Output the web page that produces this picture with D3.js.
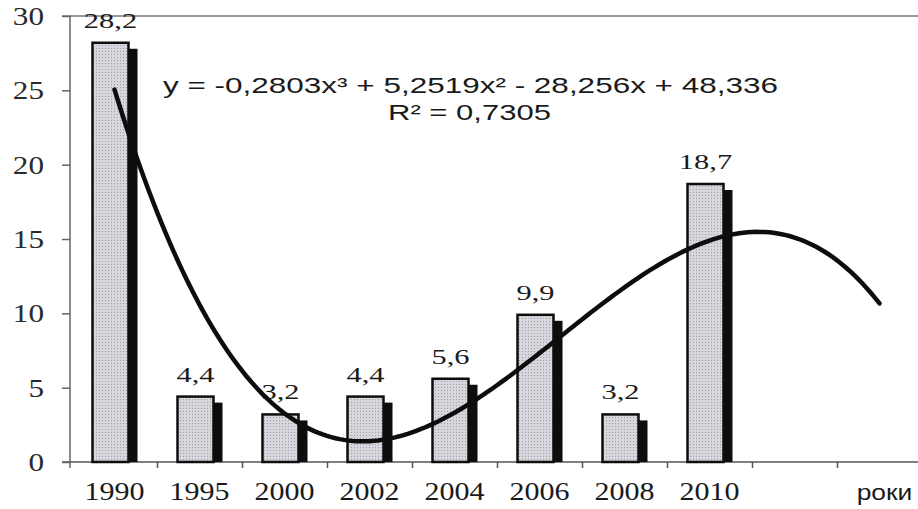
<!DOCTYPE html>
<html>
<head>
<meta charset="utf-8">
<script src="https://cdn.jsdelivr.net/npm/d3@7"></script>
<style>
  body { margin: 0; background: #fff; }
  .serif { font-family: "Liberation Serif", "DejaVu Serif", "Times New Roman", serif; }
  .sans { font-family: "Liberation Sans", Arial, sans-serif; }
</style>
</head>
<body>
<div class="chart"></div>
<script>
// values
var years = ["1990", "1995", "2000", "2002", "2004", "2006", "2008", "2010"];
var values = [28.2, 4.4, 3.2, 4.4, 5.6, 9.9, 3.2, 18.7];
var valueLabels = ["28,2", "4,4", "3,2", "4,4", "5,6", "9,9", "3,2", "18,7"];
var slotLabels = years.concat(["", "роки"]);
var yTicks = [0, 5, 10, 15, 20, 25, 30];
// cubic trend printed on the chart, x = slot number 1..10
var trendCoef = [-0.2803, 5.2519, -28.256, 48.336];
var trendText = ["y = -0,2803x³ + 5,2519x² - 28,256x + 48,336", "R² = 0,7305"];

var width = 918, height = 509;

var svg = d3
  .select(".chart")
  .append("svg")
  .attr("width", width)
  .attr("height", height);

var x = d3.scaleLinear().domain([0.5, slotLabels.length + 0.5]).range([72, 922]);
var y = d3.scaleLinear().domain([0, 30]).range([462, 16]);

var defs = svg.append("defs");
var pat = defs
  .append("pattern")
  .attr("id", "dots")
  .attr("width", 3)
  .attr("height", 3)
  .attr("patternUnits", "userSpaceOnUse");
pat.append("rect").attr("width", 3).attr("height", 3).attr("fill", "#d6d6dc");
pat.append("rect").attr("width", 1).attr("height", 1).attr("fill", "#a0a0aa");

// frame: top line, y axis, x axis
svg
  .append("line")
  .attr("x1", 62)
  .attr("x2", width)
  .attr("y1", y(30))
  .attr("y2", y(30))
  .attr("stroke", "#777")
  .attr("stroke-width", 1.5);

svg
  .append("line")
  .attr("x1", 70)
  .attr("x2", 70)
  .attr("y1", y(30))
  .attr("y2", y(0) + 6)
  .attr("stroke", "#666")
  .attr("stroke-width", 1.5);

svg
  .append("line")
  .attr("x1", 62)
  .attr("x2", width)
  .attr("y1", y(0))
  .attr("y2", y(0))
  .attr("stroke", "#555")
  .attr("stroke-width", 1.5);

var yAxis = svg
  .append("g")
  .attr("transform", "translate(70,0)")
  .call(d3.axisLeft(y).tickValues(yTicks).tickSize(8).tickFormat(""));
yAxis.select(".domain").remove();
yAxis.selectAll("line").attr("stroke", "#666").attr("stroke-width", 1.5);

var xAxis = svg
  .append("g")
  .attr("transform", "translate(0," + y(0) + ")")
  .call(
    d3
      .axisBottom(x)
      .tickValues(d3.range(1.5, slotLabels.length, 1))
      .tickSize(6)
      .tickFormat("")
  );
xAxis.select(".domain").remove();
xAxis.selectAll("line").attr("stroke", "#555").attr("stroke-width", 1.5);

// y tick labels
svg
  .selectAll(".ylab")
  .data(yTicks)
  .enter()
  .append("text")
  .attr("class", "serif")
  .attr("transform", function (d) {
    return "translate(44," + y(d) + ") scale(1.2,1)";
  })
  .attr("dy", "0.34em")
  .attr("text-anchor", "end")
  .style("font-size", "26px")
  .style("fill", "#2a2a2a")
  .text(function (d) {
    return d;
  });

// slot labels
svg
  .selectAll(".xlab")
  .data(slotLabels)
  .enter()
  .append("text")
  .attr("class", function (d) {
    return d === "роки" ? "sans" : "serif";
  })
  .attr("transform", function (d, i) {
    return "translate(" + (x(i + 1) + (d === "роки" ? 5 : 0)) + ",500) scale(1.2,1)";
  })
  .attr("text-anchor", "middle")
  .style("font-size", function (d) {
    return d === "роки" ? "22px" : "25px";
  })
  .style("fill", "#1a1a1a")
  .text(function (d) {
    return d;
  });

// bars with dark offset shadow
var barW = 36, offX = 8, offY = 6;
function barLeft(i) {
  return x(i + 1) - (barW + offX) / 2;
}

svg
  .selectAll(".shadow")
  .data(values)
  .enter()
  .append("rect")
  .attr("x", function (d, i) {
    return barLeft(i) + offX;
  })
  .attr("y", function (d) {
    return y(d) + offY;
  })
  .attr("width", barW + 1)
  .attr("height", function (d) {
    return y(0) - y(d) - offY;
  })
  .attr("fill", "#0d0d0d");

svg
  .selectAll(".bar")
  .data(values)
  .enter()
  .append("rect")
  .attr("x", function (d, i) {
    return barLeft(i);
  })
  .attr("y", function (d) {
    return y(d);
  })
  .attr("width", barW)
  .attr("height", function (d) {
    return y(0) - y(d);
  })
  .attr("fill", "url(#dots)")
  .attr("stroke", "#0d0d0d")
  .attr("stroke-width", 2.5);

// value labels
svg
  .selectAll(".vlab")
  .data(values)
  .enter()
  .append("text")
  .attr("class", "serif")
  .attr("transform", function (d, i) {
    return "translate(" + (barLeft(i) + barW / 2) + "," + (y(d) - 15) + ") scale(1.45,1)";
  })
  .attr("text-anchor", "middle")
  .style("font-size", "21px")
  .style("fill", "#1a1a1a")
  .text(function (d, i) {
    return valueLabels[i];
  });

// trend line
function trend(t) {
  return ((trendCoef[0] * t + trendCoef[1]) * t + trendCoef[2]) * t + trendCoef[3];
}
var ts = d3.range(1, 10.001, 0.05);
svg
  .append("path")
  .datum(ts)
  .attr(
    "d",
    d3
      .line()
      .x(function (t) {
        return x(t);
      })
      .y(function (t) {
        return y(trend(t));
      })
  )
  .attr("fill", "none")
  .attr("stroke", "#0d0d0d")
  .attr("stroke-width", 4.5)
  .attr("stroke-linecap", "round");

// equation
svg
  .append("text")
  .attr("class", "sans")
  .attr("x", 163)
  .attr("y", 93)
  .attr("textLength", 615)
  .attr("lengthAdjust", "spacingAndGlyphs")
  .style("font-size", "22px")
  .style("fill", "#1a1a1a")
  .text(trendText[0]);

svg
  .append("text")
  .attr("class", "sans")
  .attr("x", 388)
  .attr("y", 120)
  .attr("textLength", 163)
  .attr("lengthAdjust", "spacingAndGlyphs")
  .style("font-size", "22px")
  .style("fill", "#1a1a1a")
  .text(trendText[1]);
</script>
</body>
</html>
